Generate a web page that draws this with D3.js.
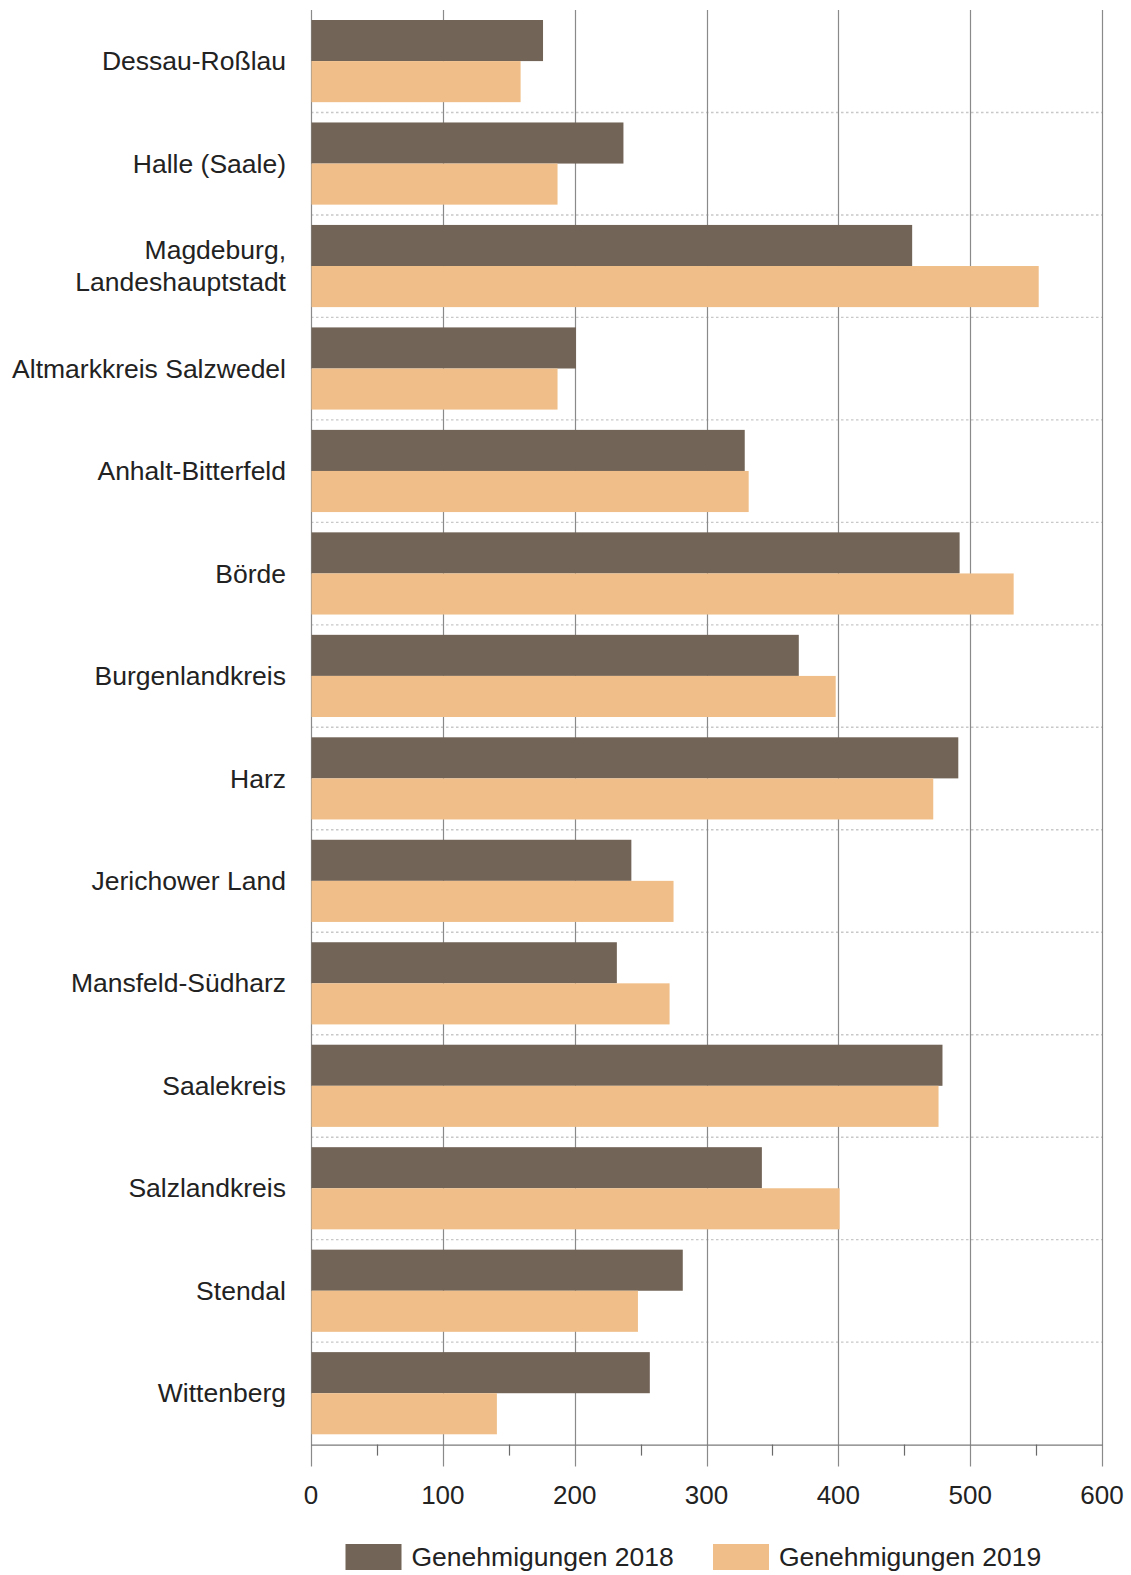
<!DOCTYPE html>
<html>
<head>
<meta charset="utf-8">
<script src="https://cdn.jsdelivr.net/npm/d3@7"></script>
<style>
  html, body { margin: 0; padding: 0; background: #fff; }
  svg { display: block; font-family: "Liberation Sans", Arial, sans-serif; }
</style>
</head>
<body>
<svg id="chart" width="1131" height="1575"></svg>
<script>
const categories = [
  ["Dessau-Roßlau"],
  ["Halle (Saale)"],
  ["Magdeburg,", "Landeshauptstadt"],
  ["Altmarkkreis Salzwedel"],
  ["Anhalt-Bitterfeld"],
  ["Börde"],
  ["Burgenlandkreis"],
  ["Harz"],
  ["Jerichower Land"],
  ["Mansfeld-Südharz"],
  ["Saalekreis"],
  ["Salzlandkreis"],
  ["Stendal"],
  ["Wittenberg"]
];
const seriesNames = ["Genehmigungen 2018", "Genehmigungen 2019"];
const values2018 = [176, 237, 456, 201, 329, 492, 370, 491, 243, 232, 479, 342, 282, 257];
const values2019 = [159, 187, 552, 187, 332, 533, 398, 472, 275, 272, 476, 401, 248, 141];
const xTicks = [0, 100, 200, 300, 400, 500, 600];
const xMinorTicks = [50, 150, 250, 350, 450, 550];
const colors = ["#726457", "#f0bf89"];

(function () {
const svg = d3.select("#chart");
const mLeft = 311, mRight = 1102, mTop = 10, mBottom = 1444.6;
const catKeys = categories.map(c => c.join(" "));

const x = d3.scaleLinear().domain([0, 600]).range([mLeft, mRight]);
const y0 = d3.scaleBand().domain(catKeys).range([mTop, mBottom]).padding(0);
const step = y0.bandwidth();
const y1 = d3.scaleBand().domain(seriesNames).range([10, step - 10.3]).padding(0);

// horizontal dotted separators
svg.append("g").selectAll("line")
  .data(catKeys.slice(1))
  .join("line")
  .attr("x1", mLeft).attr("x2", mRight)
  .attr("y1", d => y0(d)).attr("y2", d => y0(d))
  .attr("stroke", "#c8c8c8").attr("stroke-width", 1.4)
  .attr("stroke-dasharray", "2.5,2.5");

// vertical grid lines (extend down as major ticks)
svg.append("g").selectAll("line")
  .data(xTicks)
  .join("line")
  .attr("x1", d => Math.round(x(d)) + 0.5).attr("x2", d => Math.round(x(d)) + 0.5)
  .attr("y1", mTop).attr("y2", mBottom + 22)
  .attr("stroke", "#8a8a8a").attr("stroke-width", 1.2);

// bars
const groups = svg.append("g").selectAll("g")
  .data(catKeys.map((k, i) => ({ key: k, vals: [values2018[i], values2019[i]] })))
  .join("g")
  .attr("transform", d => `translate(0,${y0(d.key)})`);

groups.selectAll("rect")
  .data(d => d.vals.map((v, j) => ({ s: seriesNames[j], v, j })))
  .join("rect")
  .attr("x", x(0) + 0.5)
  .attr("y", d => y1(d.s))
  .attr("width", d => x(d.v) - x(0) - 0.5)
  .attr("height", y1.bandwidth())
  .attr("fill", d => colors[d.j]);

// x axis
const axisG = svg.append("g").attr("transform", `translate(0,${mBottom})`);
axisG.append("line")
  .attr("x1", mLeft).attr("x2", mRight + 1)
  .attr("y1", 0.5).attr("y2", 0.5)
  .attr("stroke", "#7a7a7a").attr("stroke-width", 1.3);
axisG.selectAll("line.minor")
  .data(xMinorTicks)
  .join("line")
  .attr("class", "minor")
  .attr("x1", d => Math.round(x(d)) + 0.5).attr("x2", d => Math.round(x(d)) + 0.5)
  .attr("y1", 0).attr("y2", 11)
  .attr("stroke", "#6a6a6a").attr("stroke-width", 1.2);
axisG.selectAll("text")
  .data(xTicks)
  .join("text")
  .attr("x", d => x(d))
  .attr("y", 59)
  .attr("text-anchor", "middle")
  .attr("font-size", 26)
  .attr("fill", "#222")
  .text(d => d);

// category labels
const lab = svg.append("g").selectAll("text")
  .data(categories)
  .join("text")
  .attr("text-anchor", "end")
  .attr("font-size", 26.5)
  .attr("fill", "#222")
  .attr("transform", (d, i) => `translate(286,${y0(catKeys[i]) + step / 2})`);
lab.each(function (d) {
  const t = d3.select(this);
  const n = d.length;
  d.forEach((line, k) => {
    t.append("tspan")
      .attr("x", 0)
      .attr("y", (k - (n - 1) / 2) * 32 + 9)
      .text(line);
  });
});

// legend
const legendItems = [
  { name: seriesNames[0], color: colors[0], x: 345.5 },
  { name: seriesNames[1], color: colors[1], x: 713 }
];
const lg = svg.append("g").selectAll("g")
  .data(legendItems)
  .join("g")
  .attr("transform", d => `translate(${d.x},1544)`);
lg.append("rect").attr("width", 56).attr("height", 26).attr("fill", d => d.color);
lg.append("text")
  .attr("x", 66).attr("y", 22)
  .attr("font-size", 26.5)
  .attr("fill", "#222")
  .text(d => d.name);
})();
</script>
</body>
</html>
